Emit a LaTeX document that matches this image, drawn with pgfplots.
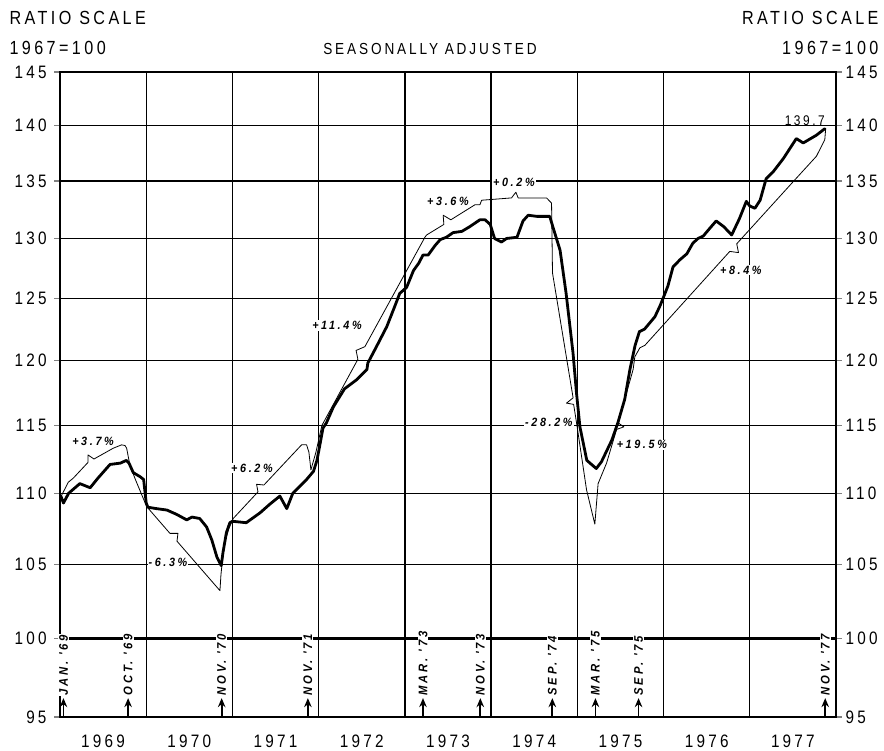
\documentclass[border=0pt]{standalone}
\usepackage{fontspec}
\usepackage{pgfplots}
\pgfplotsset{compat=1.18}
\usetikzlibrary{arrows.meta}
\setmainfont{Liberation Sans}
\newfontfamily\lett[FakeStretch=0.85,LetterSpace=18]{Liberation Sans}
\newfontfamily\pct[FakeStretch=0.9,LetterSpace=22]{Liberation Sans}

\pgfplotstableread{
x y
1969.01 109.8
1969.04 109.3
1969.10 110.0
1969.23 110.7
1969.35 110.4
1969.44 111.1
1969.58 112.1
1969.70 112.2
1969.77 112.4
1969.80 112.2
1969.85 111.5
1969.93 111.2
1969.97 111.0
1970.00 109.3
1970.02 109.0
1970.12 108.9
1970.24 108.8
1970.35 108.5
1970.47 108.1
1970.53 108.3
1970.62 108.2
1970.70 107.6
1970.76 106.7
1970.82 105.5
1970.87 104.9
1970.89 105.8
1970.93 107.2
1970.97 107.9
1971.00 108.0
1971.16 107.9
1971.32 108.6
1971.43 109.2
1971.55 109.8
1971.63 108.9
1971.70 110.0
1971.86 111.0
1971.94 111.6
1971.98 112.4
1972.01 113.4
1972.05 114.8
1972.09 115.2
1972.17 116.4
1972.30 117.8
1972.44 118.5
1972.56 119.3
1972.57 119.8
1972.67 121.1
1972.79 122.7
1972.88 124.3
1972.94 125.4
1973.02 125.9
1973.10 127.3
1973.16 127.9
1973.21 128.6
1973.27 128.6
1973.35 129.4
1973.41 129.9
1973.48 130.1
1973.56 130.5
1973.66 130.6
1973.75 131.0
1973.87 131.6
1973.93 131.6
1973.99 131.2
1974.04 130.0
1974.12 129.7
1974.18 130.0
1974.30 130.1
1974.37 131.5
1974.43 132.0
1974.53 131.9
1974.68 131.9
1974.72 130.9
1974.80 129.0
1974.87 125.4
1974.95 120.6
1974.99 117.5
1975.03 114.9
1975.11 112.4
1975.22 111.8
1975.28 112.3
1975.40 113.9
1975.47 115.2
1975.55 117.0
1975.61 119.3
1975.67 121.2
1975.72 122.3
1975.78 122.5
1975.84 123.0
1975.90 123.5
1975.96 124.4
1976.00 125.1
1976.05 126.0
1976.11 127.6
1976.19 128.2
1976.27 128.7
1976.34 129.6
1976.40 130.0
1976.46 130.2
1976.54 130.9
1976.61 131.5
1976.70 131.0
1976.79 130.3
1976.88 131.7
1976.96 133.2
1977.00 132.8
1977.06 132.6
1977.12 133.3
1977.19 135.2
1977.27 135.8
1977.39 137.0
1977.54 138.8
1977.62 138.4
1977.77 139.1
1977.87 139.7
}\thick

\pgfplotstableread{
x y
1969.006 109.7
1969.096 110.8
1969.154 111.1
1969.325 112.25
1969.325 112.8
1969.394 112.5
1969.618 113.3
1969.715 113.55
1969.754 113.5
1969.773 113.3
1969.812 112.0
1969.881 110.9
1970.005 109.05
1970.275 107.15
1970.368 107.15
1970.357 106.6
1970.855 103.2
1970.867 104.3
1970.901 106.3
1970.959 107.5
1971.009 108.2
1971.296 110.1
1971.28 110.65
1971.365 110.6
1971.802 113.55
1971.86 113.55
1971.887 113.0
1971.91 111.7
1971.968 113.0
1972.037 115.0
1972.455 120.1
1972.434 120.8
1972.536 121.1
1973.232 130.1
1973.252 130.3
1973.452 131.2
1973.444 132.0
1973.533 131.6
1973.812 132.9
1973.870 132.9
1973.89 133.3
1974.237 133.5
1974.287 134.0
1974.314 133.5
1974.643 133.5
1974.701 133.05
1974.712 127.1
1974.951 117.1
1974.875 116.7
1974.957 116.6
1974.991 115.2
1975.107 110.25
1975.203 107.8
1975.241 110.7
1975.339 112.2
1975.455 114.7
1975.54 114.9
1975.473 115.2
1975.647 119.3
1975.667 120.3
1975.725 121.0
1975.783 121.2
1976.768 128.9
1976.869 128.8
1976.849 129.55
1977.541 135.25
1977.773 137.2
1977.87 138.7
1977.881 139.75
}\thin

\begin{document}
\begin{tikzpicture}[x=1pt,y=1pt]
\useasboundingbox (0,0) rectangle (884,751);
\begin{axis}[
  at={(60pt,34pt)}, anchor=south west,
  scale only axis, width=776pt, height=645pt,
  xmin=1969, xmax=1978, ymode=log, ymin=95, ymax=145,
  clip=false,
  axis line style={line width=2.2pt},
  xtick={1970,1971,1972,1973,1974,1975,1976,1977},
  xticklabels={}, xmajorgrids, xmajorticks=false,
  ytick={95,100,105,110,115,120,125,130,135,140,145},
  yticklabels={95,100,105,110,115,120,125,130,135,140,145},
  ymajorgrids, minor y tick num=0,
  tick align=outside, major tick length=6pt,
  ytick style={line width=1.5pt},
  yticklabel style={font=\lett\fontsize{18}{18}\selectfont, xshift=-4pt},
  grid style={line width=1.3pt, black},
]
% heavy 100 line
\draw[line width=2.6pt] (axis cs:1969,100) -- (axis cs:1978,100);
% turning point dates
\foreach \xx/\lab in {1969.04/JAN. '69, 1969.79/OCT. '69, 1970.875/NOV. '70, 1971.875/NOV. '71,
  1973.21/MAR. '73, 1973.875/NOV. '73, 1974.71/SEP. '74, 1975.21/MAR. '75, 1975.71/SEP. '75, 1977.875/NOV. '77}{
  \edef\tmp{\noexpand\node[rotate=90, anchor=west, fill=white, inner sep=1pt,
     font=\noexpand\pct\noexpand\bfseries\noexpand\itshape\noexpand\fontsize{12.5}{12.5}\noexpand\selectfont]
     at (axis cs:\xx,96.28) {\lab};}
  \tmp
  \edef\tmp{\noexpand\draw[line width=1.8pt, -{Stealth[length=9pt,width=7.5pt]}] (axis cs:\xx,95) -- (axis cs:\xx,96.18);}
  \tmp
}
% year labels
\foreach \yr in {1969,...,1977}{
  \edef\tmp{\noexpand\node[font=\noexpand\lett\noexpand\fontsize{18}{18}\noexpand\selectfont] at (axis cs:\yr.5,95) [yshift=-24pt] {\yr};}
  \tmp
}
% percentage labels
\tikzset{pl/.style={fill=white, inner sep=1pt, font=\pct\bfseries\itshape\fontsize{12}{12}\selectfont}}
\node[pl] at (axis cs:1969.383,113.8) {+3.7\%};
\node[pl] at (axis cs:1970.252,105.1) {-6.3\%};
\node[pl] at (axis cs:1971.226,111.85) {+6.2\%};
\node[pl] at (axis cs:1972.212,122.8) {+11.4\%};
\node[pl] at (axis cs:1973.499,133.2) {+3.6\%};
\node[pl] at (axis cs:1974.264,134.9) {+0.2\%};
\node[pl] at (axis cs:1974.67,115.2) {-28.2\%};
\node[pl] at (axis cs:1975.748,113.55) {+19.5\%};
\node[pl] at (axis cs:1976.896,127.35) {+8.4\%};
\node[font=\lett\fontsize{14}{14}\selectfont, anchor=south, inner sep=1pt] at (axis cs:1977.638,139.9) {139.7};
% right tick labels
\foreach \v in {95,100,105,110,115,120,125,130,135,140,145}{
  \edef\tmp{\noexpand\node[anchor=west, font=\noexpand\lett\noexpand\fontsize{18}{18}\noexpand\selectfont] at (axis cs:1978,\v) [xshift=6pt] {\v};}
  \tmp
}
% data
\addplot[black, line width=0.8pt, line join=round] table[x=x,y=y] {\thin};
\addplot[black, line width=2.8pt, line join=round, line cap=round] table[x=x,y=y] {\thick};
\end{axis}
\node[anchor=west, font=\lett\fontsize{19}{19}\selectfont] at (6,733) {RATIO SCALE};
\node[anchor=west, font=\lett\fontsize{19}{19}\selectfont] at (6,703) {1967=100};
\node[anchor=east, font=\lett\fontsize{19}{19}\selectfont] at (882,733) {RATIO SCALE};
\node[anchor=east, font=\lett\fontsize{19}{19}\selectfont] at (882,703) {1967=100};
\node[font=\lett\fontsize{16}{16}\selectfont] at (430,702) {SEASONALLY ADJUSTED};
\end{tikzpicture}
\end{document}
